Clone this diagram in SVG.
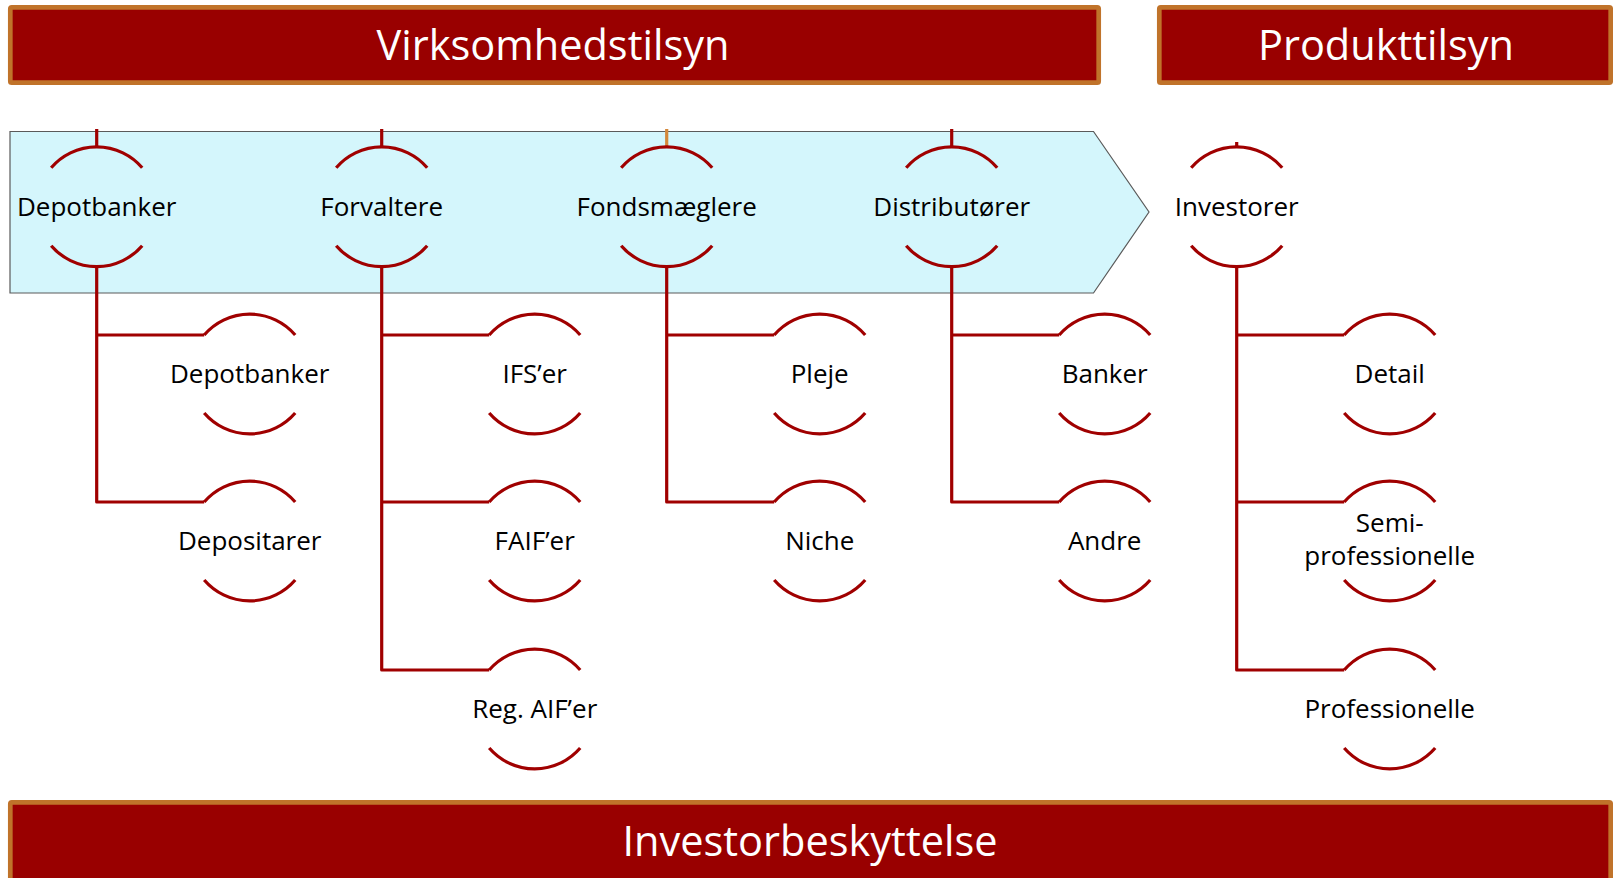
<svg xmlns="http://www.w3.org/2000/svg" xmlns:xlink="http://www.w3.org/1999/xlink" width="1613" height="878" viewBox="0 0 1613 878">
<style>
.banner{fill:#990000;stroke:#C0732A;stroke-width:4.7}
.btxt{font-family:"Open Sans","Noto Sans",sans-serif;font-size:41.5px;fill:#FFFFFF;text-anchor:middle}
.lbl{font-family:"Open Sans","Noto Sans",sans-serif;font-size:26px;fill:#000000;text-anchor:middle}
.ln{fill:none;stroke:#A00000;stroke-width:3.2;stroke-linejoin:round}
.arc{fill:none;stroke:#A00000;stroke-width:3.2;stroke-linecap:butt}
</style>
<defs>
<g id="arcs">
<path class="arc" d="M -45.5 -39 A 60 60 0 0 1 45.5 -39"/>
<path class="arc" d="M -45.5 39 A 60 60 0 0 0 45.5 39"/>
</g>
</defs>
<rect width="1613" height="878" fill="#FFFFFF"/>

<g id="banner-virksomhedstilsyn">
<rect class="banner" x="10.3" y="7.3" width="1088.4" height="75.4" rx="1.5"/>
<text class="btxt" x="553" y="60">Virksomhedstilsyn</text>
</g>
<g id="banner-produkttilsyn">
<rect class="banner" x="1159.3" y="7.3" width="451.4" height="75.4" rx="1.5"/>
<text class="btxt" x="1386" y="60">Produkttilsyn</text>
</g>
<g id="banner-investorbeskyttelse">
<rect class="banner" x="10.3" y="802.3" width="1600.4" height="85" rx="1.5"/>
<text class="btxt" x="810" y="856">Investorbeskyttelse</text>
</g>

<g id="value-chain">
<path d="M 10 131.5 H 1093.5 L 1149 212 L 1093.5 293 H 10 Z" fill="#D4F6FC" stroke="#5A5A5A" stroke-width="1.2"/>
</g>

<g id="connectors">
<path class="ln" d="M 96.7 129 V 146.7"/>
<path class="ln" d="M 381.7 129 V 146.7"/>
<path d="M 666.7 129 V 146.7" fill="none" stroke="#D4883A" stroke-width="3.2"/>
<path class="ln" d="M 951.7 129 V 146.7"/>
<path class="ln" d="M 1236.7 142 V 146.7"/>

<path class="ln" d="M 96.7 266.7 V 502 H 204.2 M 96.7 335 H 204.2"/>
<path class="ln" d="M 381.7 266.7 V 670 H 489.2 M 381.7 335 H 489.2 M 381.7 502 H 489.2"/>
<path class="ln" d="M 666.7 266.7 V 502 H 774.2 M 666.7 335 H 774.2"/>
<path class="ln" d="M 951.7 266.7 V 502 H 1059.2 M 951.7 335 H 1059.2"/>
<path class="ln" d="M 1236.7 266.7 V 670 H 1344.2 M 1236.7 335 H 1344.2 M 1236.7 502 H 1344.2"/>
</g>

<g id="node-depotbanker" transform="translate(96.7,206.7)"><use xlink:href="#arcs"/><text class="lbl" y="9">Depotbanker</text></g>
<g id="node-forvaltere" transform="translate(381.7,206.7)"><use xlink:href="#arcs"/><text class="lbl" y="9">Forvaltere</text></g>
<g id="node-fondsmaeglere" transform="translate(666.7,206.7)"><use xlink:href="#arcs"/><text class="lbl" y="9">Fondsmæglere</text></g>
<g id="node-distributorer" transform="translate(951.7,206.7)"><use xlink:href="#arcs"/><text class="lbl" y="9">Distributører</text></g>
<g id="node-investorer" transform="translate(1236.7,206.7)"><use xlink:href="#arcs"/><text class="lbl" y="9">Investorer</text></g>

<g id="node-depotbanker-sub" transform="translate(249.7,374)"><use xlink:href="#arcs"/><text class="lbl" y="9">Depotbanker</text></g>
<g id="node-depositarer" transform="translate(249.7,541)"><use xlink:href="#arcs"/><text class="lbl" y="9">Depositarer</text></g>

<g id="node-ifser" transform="translate(534.7,374)"><use xlink:href="#arcs"/><text class="lbl" y="9">IFS’er</text></g>
<g id="node-faifer" transform="translate(534.7,541)"><use xlink:href="#arcs"/><text class="lbl" y="9">FAIF’er</text></g>
<g id="node-regaifer" transform="translate(534.7,709)"><use xlink:href="#arcs"/><text class="lbl" y="9">Reg. AIF’er</text></g>

<g id="node-pleje" transform="translate(819.7,374)"><use xlink:href="#arcs"/><text class="lbl" y="9">Pleje</text></g>
<g id="node-niche" transform="translate(819.7,541)"><use xlink:href="#arcs"/><text class="lbl" y="9">Niche</text></g>

<g id="node-banker" transform="translate(1104.7,374)"><use xlink:href="#arcs"/><text class="lbl" y="9">Banker</text></g>
<g id="node-andre" transform="translate(1104.7,541)"><use xlink:href="#arcs"/><text class="lbl" y="9">Andre</text></g>

<g id="node-detail" transform="translate(1389.7,374)"><use xlink:href="#arcs"/><text class="lbl" y="9">Detail</text></g>
<g id="node-semiprofessionelle" transform="translate(1389.7,541)"><use xlink:href="#arcs"/><text class="lbl" y="-9">Semi-</text><text class="lbl" y="24">professionelle</text></g>
<g id="node-professionelle" transform="translate(1389.7,709)"><use xlink:href="#arcs"/><text class="lbl" y="9">Professionelle</text></g>
</svg>
